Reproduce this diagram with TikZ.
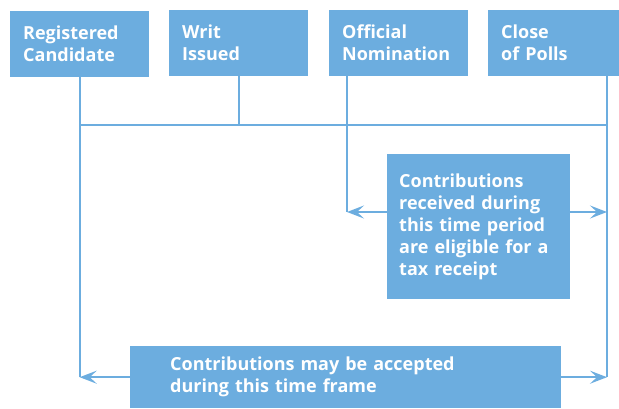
\documentclass[tikz,border=0pt]{standalone}
\usepackage{fontspec}
\setmainfont{Open Sans}
\usetikzlibrary{arrows.meta,calc}
\definecolor{boxblue}{HTML}{6CADDF}
\newcommand{\boxfont}{\fontsize{18}{22}\selectfont\bfseries}

\begin{document}
\begin{tikzpicture}[x=1pt,y=-1pt,font=\boxfont,
  stage/.style={fill=boxblue,text=white,anchor=north west,align=left,inner xsep=13pt,inner ysep=0pt,text width=113pt,minimum height=66pt},
  link/.style={boxblue,line width=2pt},
  tip/.style={link,-{Stealth[length=17pt,width=13pt,inset=7pt]}}]
\useasboundingbox (0,0) rectangle (619,409);
\node[stage] (reg) at (10,11) {Registered\\Candidate};
\node[stage] (writ) at (169,10) {Writ\\Issued};
\node[stage] (nom) at (329,10) {Official\\Nomination};
\node[stage] (polls) at (488,10) {Close\\of Polls};
\node[stage,inner xsep=12pt,text width=159pt,minimum height=145pt] (elig) at (387,154) {Contributions\\received during\\this time period\\are eligible for a\\tax receipt};
\node[stage,inner xsep=40pt,text width=351pt,minimum height=62pt] (frame) at (130,346) {Contributions may be accepted\\during this time frame};
\coordinate (bus) at (0,125);
\coordinate (nomdrop) at ($(nom.south west)+(18,0)$);
\coordinate (pollsdrop) at ($(polls.south west)+(119,0)$);
\coordinate (eligmid) at ($(elig.north west)+(0,58)$);
\draw[link] (reg.south) -- (reg.south |- frame.west);
\draw[link] (writ.south) -- (writ.south |- bus);
\draw[link] (reg.south |- bus) -- (pollsdrop |- bus);
\draw[link] (nomdrop) -- (nomdrop |- eligmid);
\draw[link] (pollsdrop) -- (pollsdrop |- frame.west);
\draw[tip] (eligmid) -- (nomdrop |- eligmid);
\draw[tip] (eligmid -| elig.east) -- (pollsdrop |- eligmid);
\draw[tip] (frame.west) -- (reg.south |- frame.west);
\draw[tip] (frame.east) -- (pollsdrop |- frame.west);
\end{tikzpicture}
\end{document}
